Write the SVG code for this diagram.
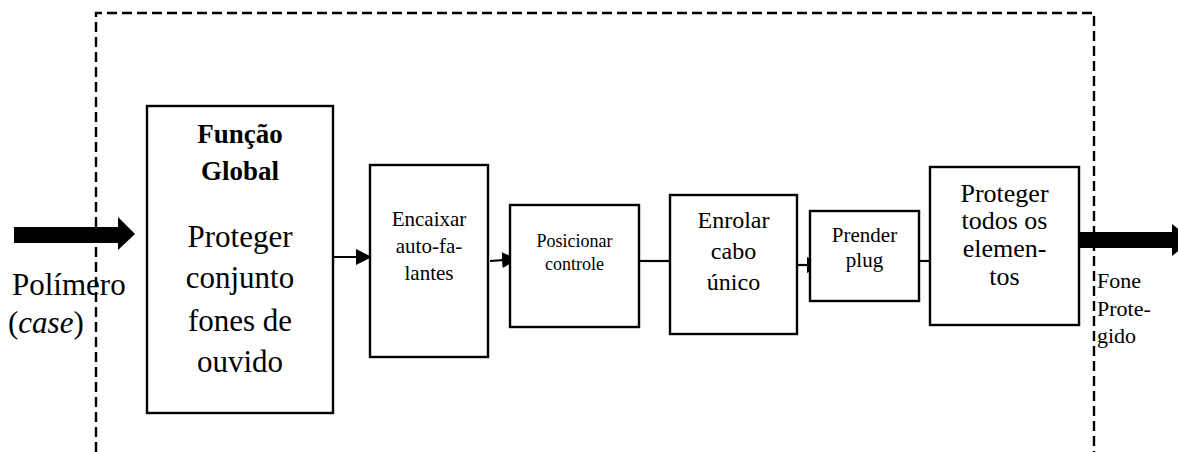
<svg xmlns="http://www.w3.org/2000/svg" width="1178" height="452" viewBox="0 0 1178 452">
<style>
.box{fill:#fff;stroke:#000;stroke-width:2.4}
.t{font-family:'Liberation Serif','Times New Roman',Tinos,'DejaVu Serif',serif;fill:#000;text-anchor:middle}
.l{font-family:'Liberation Serif','Times New Roman',Tinos,'DejaVu Serif',serif;fill:#000}
.c{stroke:#000;stroke-width:2.2;fill:none}
.dash{stroke:#000;stroke-width:2.4;fill:none;stroke-dasharray:10 5}
</style>
<defs>
<marker id="ah" markerWidth="16" markerHeight="16" viewBox="0 0 16 16" refX="16" refY="8" orient="auto" markerUnits="userSpaceOnUse">
<path d="M0,0 L16,8 L0,16 Z" fill="#000"/>
</marker>
</defs>
<rect width="1178" height="452" fill="#fff"/>
<path id="boundary" class="dash" d="M96,452 V13 H1094 V452"/>

<g id="input">
<path d="M14,227 H118 V217 L135,234 L118,250 V243 H14 Z" fill="#000"/>
<text class="l" x="12" y="295" font-size="31">Polímero</text>
<text class="l" x="8" y="333" font-size="31">(<tspan font-style="italic">case</tspan>)</text>
</g>

<g id="output">
<path d="M1067,232 H1172 V224 L1192,240 L1172,256 V248 H1067 Z" fill="#000"/>
<text class="l" x="1097" y="288" font-size="22">Fone</text>
<text class="l" x="1097" y="316" font-size="22">Prote-</text>
<text class="l" x="1097" y="343" font-size="22">gido</text>
</g>

<g id="connectors">
<line class="c" x1="334" y1="257" x2="372" y2="257" marker-end="url(#ah)"/>
<line class="c" x1="490" y1="261" x2="518" y2="259" marker-end="url(#ah)"/>
<line class="c" x1="640" y1="261" x2="670" y2="261"/>
<line class="c" x1="798" y1="265" x2="823" y2="265" marker-end="url(#ah)"/>
<line class="c" x1="919" y1="261" x2="930" y2="261"/>
</g>

<g id="n-global">
<rect class="box" x="147" y="106" width="186" height="307"/>
<text class="t" x="240" y="143" font-size="27" font-weight="bold">Função</text>
<text class="t" x="240" y="180" font-size="27" font-weight="bold">Global</text>
<text class="t" x="240" y="247" font-size="31">Proteger</text>
<text class="t" x="240" y="288" font-size="31">conjunto</text>
<text class="t" x="240" y="331" font-size="31">fones de</text>
<text class="t" x="240" y="372" font-size="31">ouvido</text>
</g>

<g id="n-encaixar">
<rect class="box" x="370" y="165" width="118" height="192"/>
<text class="t" x="429" y="226" font-size="21">Encaixar</text>
<text class="t" x="429" y="253" font-size="21">auto-fa-</text>
<text class="t" x="429" y="280" font-size="21">lantes</text>
</g>

<g id="n-posicionar">
<rect class="box" x="510" y="205" width="129" height="122"/>
<text class="t" x="574.5" y="247" font-size="18">Posicionar</text>
<text class="t" x="574.5" y="270" font-size="18">controle</text>
</g>

<g id="n-enrolar">
<rect class="box" x="670" y="195" width="127" height="139"/>
<text class="t" x="733.5" y="228" font-size="24">Enrolar</text>
<text class="t" x="733.5" y="259" font-size="24">cabo</text>
<text class="t" x="733.5" y="290" font-size="24">único</text>
</g>

<g id="n-prender">
<rect class="box" x="810" y="211" width="109" height="90"/>
<text class="t" x="864.5" y="242" font-size="21">Prender</text>
<text class="t" x="864.5" y="267" font-size="21">plug</text>
</g>

<g id="n-proteger">
<rect class="box" x="930" y="167" width="149" height="158"/>
<text class="t" x="1004.5" y="202" font-size="26">Proteger</text>
<text class="t" x="1004.5" y="229" font-size="26">todos os</text>
<text class="t" x="1004.5" y="257" font-size="26">elemen-</text>
<text class="t" x="1004.5" y="285" font-size="26">tos</text>
</g>
</svg>
